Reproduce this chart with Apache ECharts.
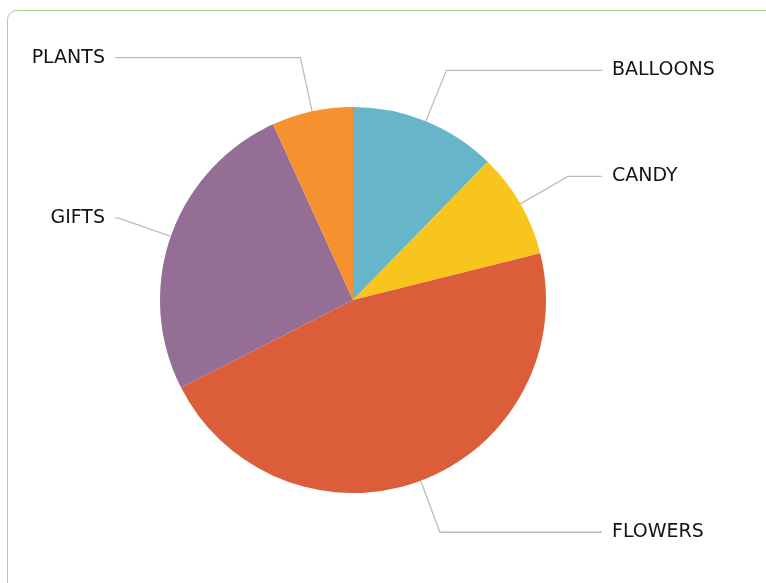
<!DOCTYPE html>
<html>

<head>
    <meta charset="utf-8">
    <title>Sales by category</title>
    <script src="https://cdn.jsdelivr.net/npm/echarts@6/dist/echarts.min.js"></script>
    <style>
        html, body { margin: 0; padding: 0; overflow: hidden; background: #fff; }
        #frame {
            position: absolute; left: 7px; top: 10px;
            width: 820px; height: 640px;
            border: 1px solid #a9cf8c; border-radius: 10px;
        }
        #main { position: absolute; left: 0; top: 0; width: 766px; height: 583px; }
    </style>
</head>

<body>
    <div id="frame"></div>
    <div id="main"></div>
    <script type="text/javascript">
    // slice data, clockwise from 12 o'clock
    var categories = ['BALLOONS', 'CANDY', 'FLOWERS', 'GIFTS', 'PLANTS'];
    var values = [12.3, 8.8, 46.4, 25.7, 6.8];
    var colors = ['#67b5c8', '#f8c51e', '#db5d3a', '#946e95', '#f5922f'];

    var myChart = echarts.init(document.getElementById('main'));

    var option = {
        animation: false,
        series: [
            {
                type: 'pie',
                center: [353, 300],
                radius: 193,
                startAngle: 90,
                clockwise: true,
                itemStyle: { borderWidth: 0 },
                label: {
                    show: true,
                    color: '#151515',
                    fontFamily: 'DejaVu Sans',
                    fontSize: 19,
                    formatter: '{b}'
                },
                labelLine: {
                    show: true,
                    length: 55,
                    length2: 20,
                    lineStyle: { color: '#bdbdbd', width: 1.3 }
                },
                labelLayout: function (p) {
                    var pts = p.labelLinePoints;
                    if (!pts) return {};
                    var right = pts[1][0] >= pts[0][0];
                    var endX = right ? 602 : 115;
                    return {
                        x: right ? endX + 10 : endX - 10,
                        y: pts[1][1],
                        align: right ? 'left' : 'right',
                        verticalAlign: 'middle',
                        labelLinePoints: [pts[0], pts[1], [endX, pts[1][1]]]
                    };
                },
                data: categories.map(function (c, i) {
                    return { name: c, value: values[i], itemStyle: { color: colors[i] } };
                })
            }
        ]
    };

    myChart.setOption(option);
    </script>
</body>

</html>
